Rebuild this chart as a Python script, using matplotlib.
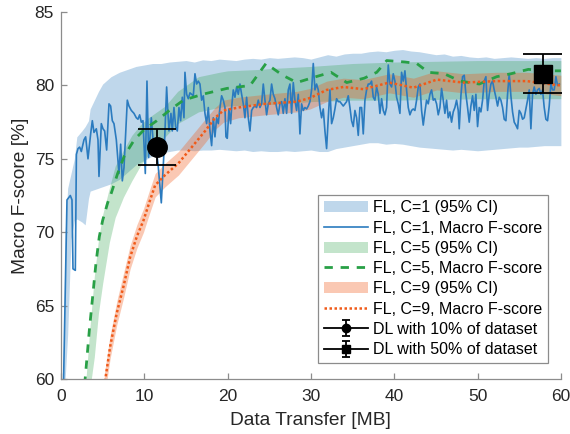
import numpy as np
import matplotlib
matplotlib.use('Agg')
import matplotlib.pyplot as plt
from matplotlib.legend_handler import HandlerErrorbar

plt.rcParams['font.family'] = ['Liberation Sans', 'DejaVu Sans']

# FL, C=1 : macro F-score after every round (MB transferred vs score)
c1_x = [0.2, 0.32, 0.72, 1.12, 1.32, 1.44, 1.72, 1.85, 2.04, 2.24,
        2.44, 2.76, 2.96, 3.24, 3.56, 3.76, 3.96, 4.24, 4.44, 4.56,
        4.84, 5.04, 5.24, 5.48, 5.76, 5.96, 6.16, 6.36, 6.64, 6.96,
        7.16, 7.36, 7.56, 7.76, 7.96, 8.16, 8.44, 8.76, 9.04, 9.24,
        9.44, 9.64, 9.84, 10.12, 10.32, 10.52, 10.84, 11.12, 11.44, 11.64,
        12.04, 12.44, 12.68, 12.8, 12.96, 13.2, 13.36, 13.56, 13.76, 13.96,
        14.16, 14.36, 14.56, 14.76, 14.88, 15.08, 15.28, 15.48, 15.68, 15.88,
        16.08, 16.28, 16.48, 16.68, 16.88, 17.08, 17.28, 17.48, 17.68, 17.88,
        18.08, 18.28, 18.48, 18.68, 18.88, 19.08, 19.28, 19.48, 19.68, 19.8,
        19.96, 20.16, 20.36, 20.48, 20.68, 20.88, 21.08, 21.28, 21.48, 21.68,
        21.88, 22.08, 22.28, 22.48, 22.68, 22.88, 23.08, 23.28, 23.48, 23.68,
        23.88, 24.08, 24.28,
        24.48, 24.68, 24.88, 25.08, 25.28, 25.48, 25.68, 25.88, 26.08, 26.28,
        26.48, 26.68, 26.88, 27.08, 27.28, 27.48, 27.68, 27.88, 28.08, 28.28,
        28.48, 28.68, 28.88, 29.08, 29.28, 29.48, 29.68, 29.88, 30.08, 30.28,
        30.48, 30.68, 30.88, 31.08, 31.28, 31.48, 31.68, 31.88, 32.08, 32.28,
        32.48, 32.68, 32.88, 33.08, 33.28, 33.48, 33.68, 33.88, 34.08, 34.28,
        34.48, 34.68, 34.88, 35.08, 35.28, 35.48, 35.68,
        35.88, 36.08, 36.28, 36.48, 36.68, 36.88, 37.08, 37.28, 37.48, 37.68,
        37.88, 38.08, 38.28, 38.48, 38.68, 38.88, 39.08, 39.28, 39.48, 39.68,
        39.88, 40.08, 40.28, 40.48, 40.68, 40.88, 41.08, 41.28, 41.48, 41.68,
        41.88, 42.08, 42.28, 42.48, 42.68, 42.88, 43.08, 43.28, 43.48, 43.68,
        43.88, 44.08, 44.28, 44.48, 44.68, 44.88, 45.08, 45.28, 45.48, 45.68,
        45.88, 46.08, 46.28, 46.48, 46.68, 46.88, 47.08,
        47.28, 47.48, 47.68, 47.8, 48.0, 48.2, 48.4, 48.6, 48.8, 49.0,
        49.2, 49.4, 49.6, 49.8, 50.0, 50.2, 50.4, 50.6, 50.8, 51.0,
        51.2, 51.4, 51.6, 51.8, 52.0, 52.2, 52.4, 52.6, 52.8, 53.0,
        53.2, 53.4, 53.6, 53.8, 54.0, 54.2, 54.4, 54.6, 54.8, 55.0,
        55.2, 55.4, 55.6, 55.8, 56.0, 56.2, 56.4, 56.6, 56.8, 57.0,
        57.2, 57.4, 57.6, 57.8, 58.0, 58.2, 58.4, 58.6, 58.8, 59.0,
        59.2, 59.4, 59.6, 59.8]
c1_f = [57.0, 60.2, 72.2, 72.5, 72.2, 67.5, 67.4, 75.3, 75.7, 75.8,
        75.5, 76.3, 76.5, 75.0, 76.7, 77.6, 76.8, 77.05, 76.3, 73.8,
        77.4, 77.05, 76.9, 75.6, 78.75, 78.6, 77.6, 77.4, 76.3, 74.0,
        76.0, 73.5, 74.4, 76.7, 79.0, 78.6, 78.3, 78.1, 77.8, 77.7,
        78.0, 77.5, 77.6, 74.0, 80.3, 75.1, 77.8, 75.8, 75.6, 74.7,
        72.0, 76.3, 79.9, 78.5, 76.9, 78.1, 76.9, 78.5, 77.2, 76.9,
        78.5, 77.6, 79.2, 77.8, 80.9, 79.4, 79.1, 79.5, 79.4, 79.3,
        80.8, 80.1, 80.3, 80.1, 79.0, 79.3, 78.1, 77.4, 78.5, 76.9,
        75.9, 77.8, 76.5, 77.8, 77.4, 78.5, 79.3, 79.0, 78.5, 76.5,
        76.4, 78.4, 77.4, 78.5, 79.7, 79.2, 79.9, 79.4, 80.1, 79.4,
        78.75, 77.8, 79.2, 77.8, 76.9, 78.3, 78.5, 78.6, 78.5, 79.0,
        78.5, 78.75, 80.1,
        79.0, 78.0, 78.75, 79.0, 80.1, 79.4, 79.1, 78.5, 78.0, 78.75,
        78.9, 78.1, 79.1, 78.1, 79.7, 80.1, 78.1, 80.2, 79.0, 78.3,
        79.4, 76.7, 78.75, 78.3, 78.5, 78.4, 78.6, 78.9, 79.7, 81.5,
        79.7, 80.1, 79.7, 78.5, 77.8, 78.4, 76.9, 75.7, 77.8, 79.7,
        77.4, 77.8, 78.4, 79.1, 78.9, 78.9, 78.75, 78.6, 78.75, 78.9,
        79.3, 78.5, 77.6, 77.2, 78.3, 77.8, 76.6,
        78.5, 78.5, 76.7, 79.0, 79.7, 80.1, 80.1, 80.3, 79.2, 79.0,
        79.9, 79.4, 78.1, 79.1, 78.3, 78.0, 78.5, 81.4, 80.1, 79.9,
        80.8, 80.3, 79.2, 78.75, 78.1, 80.9, 80.3, 81.0, 79.7, 78.5,
        78.0, 78.3, 78.4, 78.3, 79.0, 79.9, 80.1, 78.3, 77.3, 78.2,
        79.0, 78.75, 79.4, 79.7, 79.0, 79.1, 78.75, 78.0, 78.5, 79.8,
        79.0, 78.1, 79.0, 77.8, 78.2, 77.5, 78.2,
        78.5, 79.0, 78.3, 77.05, 79.3, 80.6, 80.7, 79.4, 78.5, 77.5,
        78.6, 79.3, 78.3, 79.4, 77.2, 78.5, 78.2, 79.0, 80.3, 80.6,
        78.3, 79.4, 80.1, 80.3, 79.7, 79.2, 78.6, 79.2, 79.0, 78.5,
        77.7, 77.6, 79.4, 80.8, 79.3, 78.2, 77.5, 77.3, 77.05, 78.3,
        78.1, 77.7, 77.8, 78.4, 79.0, 79.7, 77.05, 79.4, 79.9, 79.4,
        79.7, 79.8, 79.4, 79.7, 78.5, 77.7, 77.6, 78.6, 80.1, 79.7,
        79.7, 80.6, 80.0, 80.1]

# FL, C=1 : 95% confidence band
c1_ci_x = [0.3, 0.5, 0.8, 1.2, 1.6, 1.9, 2.5, 2.9, 3.3, 3.5, 4.0, 4.5, 5, 6, 7, 8, 9, 10,
           11, 12, 13, 14, 15, 16, 17, 18, 19, 20, 21, 22, 23, 24, 25, 26, 27, 28, 29, 30,
           31, 32, 33, 34, 35, 36, 37, 38, 39, 40, 41, 42, 43, 44, 45, 46, 47, 48, 49, 50,
           51, 52, 53, 54, 55, 56, 57, 58, 59, 60]
c1_ci_hi = [62.0, 70.0, 73.0, 74.0, 75.0, 76.5, 76.9, 77.2, 77.6, 78.4, 79.0, 79.6, 80.1,
            80.6, 80.9, 81.1, 81.3, 81.4, 81.5, 81.5, 81.6, 81.65, 81.7, 81.6, 81.75, 81.7,
            81.8, 81.75, 81.7, 81.8, 81.85, 81.8, 81.9, 81.85, 81.9, 81.95, 81.9, 81.8,
            81.95, 82.1, 82.0, 82.15, 82.2, 82.2, 82.3, 82.35, 82.3, 82.4, 82.45, 82.35,
            82.3, 82.2, 82.1, 82.15, 82.0, 82.05, 81.95, 81.9, 81.95, 81.85, 81.9, 81.95,
            81.9, 81.85, 81.9, 81.85, 81.9, 81.9]
c1_ci_lo = [57.0, 60.0, 63.0, 69.5, 70.8, 70.9, 70.7, 70.5, 72.3, 72.8, 72.9, 73.0, 73.1,
            73.3, 73.6, 74.1, 74.6, 74.9, 75.2, 75.4, 75.5, 75.6, 75.6, 75.55, 75.6, 75.6,
            75.65, 75.6, 75.55, 75.6, 75.5, 75.55, 75.5, 75.5, 75.55, 75.5, 75.55, 75.6,
            75.5, 75.5, 75.7, 75.8, 75.9, 76.0, 76.1, 76.1, 76.0, 76.05, 76.0, 75.9, 75.8,
            75.75, 75.7, 75.65, 75.6, 75.65, 75.6, 75.55, 75.6, 75.65, 75.7, 75.75, 75.8,
            75.8, 75.85, 75.9, 75.9, 75.9]

# FL, C=5
c5_x = [2.7, 2.9, 3.4, 3.8, 4.2, 4.6, 5.0, 5.6, 6.0, 6.8, 7.6, 8.8, 10.0, 11.5, 13.0, 14.7,
        17.0, 19.9, 22.7, 24.6, 26.6, 28.3, 30.6, 32.4, 34.3, 36.4, 37.9, 39.1, 41.3, 42.7,
        44.1, 46.0, 47.9, 50.2, 52.3, 54.0, 56.1, 58.0, 60.0]
c5_f = [58.5, 60.0, 63.3, 65.6, 67.9, 69.7, 70.8, 72.0, 72.6, 74.0, 75.2, 76.3, 77.0, 77.6,
        78.3, 79.0, 79.4, 79.8, 80.0, 81.5, 80.7, 80.2, 80.6, 80.9, 80.2, 80.5, 80.9, 81.7,
        81.6, 81.5, 80.9, 80.8, 80.3, 80.1, 80.6, 80.8, 81.1, 81.0, 81.0]
c5_ci_x = [3.0, 3.4, 4.0, 4.5, 5.0, 5.8, 6.5, 7.5, 8.5, 9.5, 10.5, 12.5, 14, 16.5, 19, 20,
           24, 25, 30, 35, 40, 50, 60]
c5_ci_hi = [60.0, 63.0, 67.0, 69.5, 71.2, 73.0, 74.5, 75.6, 76.6, 77.3, 77.8, 78.6, 79.6,
            80.6, 80.9, 81.0, 81.1, 81.15, 81.3, 81.5, 81.6, 81.7, 81.7]
c5_ci_lo = [57.5, 59.0, 61.5, 64.5, 66.5, 69.3, 71.0, 72.4, 73.5, 74.5, 75.3, 76.5, 77.4,
            78.2, 78.5, 78.6, 78.7, 78.7, 78.9, 79.0, 79.0, 79.1, 79.1]

# FL, C=9
c9_x = [5.2, 5.9, 6.7, 7.5, 8.3, 9.1, 9.9, 10.7, 11.3, 12.5, 14.1, 15.7, 17.3, 18.5, 19.5,
        21.3, 24.5, 28.3, 29.9, 31.9, 33.9, 36.3, 39.4, 42.3, 45.1, 48.3, 52.3, 55.9, 60.0]
c9_f = [59.5, 62.2, 64.5, 66.3, 68.3, 69.7, 70.8, 72.2, 73.2, 73.9, 74.7, 75.8, 76.9, 77.8,
        78.3, 78.5, 78.75, 78.9, 79.15, 79.7, 79.9, 79.75, 80.2, 79.85, 80.4, 80.2, 80.3,
        80.3, 80.0]
c9_ci_hi = [60.3, 63.0, 65.3, 67.2, 69.1, 70.5, 71.6, 73.0, 74.0, 74.7, 75.5, 76.6, 77.7,
            78.5, 79.0, 79.2, 79.4, 79.6, 79.8, 80.3, 80.5, 80.4, 80.8, 80.5, 81.0, 80.8,
            80.9, 80.9, 80.7]
c9_ci_lo = [58.7, 61.4, 63.7, 65.5, 67.5, 68.9, 70.0, 71.4, 72.4, 73.1, 73.9, 75.0, 76.1,
            77.0, 77.5, 77.8, 78.0, 78.2, 78.4, 78.9, 79.2, 79.1, 79.5, 79.2, 79.7, 79.5,
            79.6, 79.6, 79.3]

# centralised deep learning baselines (x, score, half-width of error bar)
dl10 = (11.5, 75.8, 1.25)
dl50 = (57.9, 80.8, 1.33)

blue = '#2B7BBF'
green = '#28A046'
orange = '#F05A19'

fig = plt.figure(figsize=(5.7, 4.34), dpi=100)
ax = fig.add_axes([0.107, 0.127, 0.877, 0.845])

ax.fill_between(c1_ci_x, c1_ci_lo, c1_ci_hi, color=blue, alpha=0.3, lw=0,
                label='FL, C=1 (95% CI)')
ax.plot(c1_x, c1_f, color=blue, lw=1.2, label='FL, C=1, Macro F-score')
ax.fill_between(c5_ci_x, c5_ci_lo, c5_ci_hi, color=green, alpha=0.28, lw=0,
                label='FL, C=5 (95% CI)')
ax.plot(c5_x, c5_f, color=green, lw=2.0, ls=(0, (3, 2.8)),
        label='FL, C=5, Macro F-score')
ax.fill_between(c9_x, c9_ci_lo, c9_ci_hi, color=orange, alpha=0.33, lw=0,
                label='FL, C=9 (95% CI)')
ax.plot(c9_x, c9_f, color=orange, lw=1.8, ls=(0, (1, 1)),
        label='FL, C=9, Macro F-score')

ax.errorbar([dl10[0]], [dl10[1]], yerr=[dl10[2]], fmt='-o', color='black', ms=14,
            lw=1.3, capsize=14, capthick=1.3, label='DL with 10% of dataset')
ax.errorbar([dl50[0]], [dl50[1]], yerr=[dl50[2]], fmt='-s', color='black', ms=12.5,
            lw=1.3, capsize=14.5, capthick=1.3, label='DL with 50% of dataset')

ax.set_xlim(0, 60)
ax.set_ylim(60, 85)
ax.set_xticks(np.arange(0, 61, 10))
ax.set_yticks(np.arange(60, 86, 5))
for side in ['top', 'right']:
    ax.spines[side].set_visible(False)
for side in ['left', 'bottom']:
    ax.spines[side].set_color('#8c8c8c')
    ax.spines[side].set_linewidth(0.9)
ax.tick_params(direction='in', length=4, width=0.9, color='#8c8c8c',
               labelcolor='#262626', labelsize=12.5)
ax.tick_params(axis='y', pad=5)
ax.tick_params(axis='x', pad=7)
ax.set_xlabel('Data Transfer [MB]', fontsize=13.8, color='#262626', labelpad=6)
ax.set_ylabel('Macro F-score [%]', fontsize=13.8, color='#262626', labelpad=4)


def small_marker(handle, orig):
    handle.update_from(orig)
    if hasattr(handle, 'set_markersize'):
        handle.set_markersize(6)


leg = ax.legend(loc='lower right', bbox_to_anchor=(0.974, 0.044), borderaxespad=0,
                fontsize=11.5, handlelength=2.8, handletextpad=0.3, labelspacing=0.33,
                borderpad=0.35, fancybox=False, framealpha=1, edgecolor='#8c8c8c',
                handler_map={type(ax.containers[0]): HandlerErrorbar(update_func=small_marker)})
leg.get_frame().set_linewidth(0.9)

fig.savefig('out.png', dpi=100)
